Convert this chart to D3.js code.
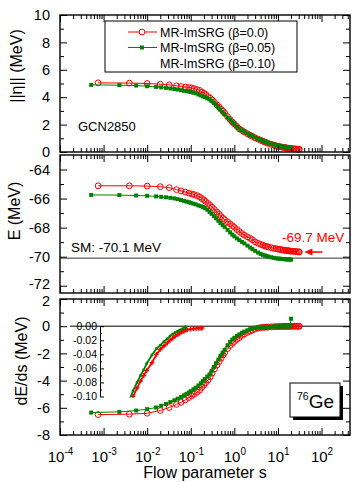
<!DOCTYPE html>
<html>
<head>
<meta charset="utf-8">
<script src="https://cdn.jsdelivr.net/npm/d3@7"></script>
<style>
  body { margin: 0; background: #fff; }
  text { font-family: "Liberation Sans", Arial, sans-serif; }
</style>
</head>
<body>
<svg id="chart" width="352" height="482"></svg>
<script>
// flow parameter grids
const sRed = [0.00075, 0.0039, 0.01, 0.02, 0.032, 0.047, 0.06, 0.075, 0.09, 0.105, 0.12, 0.14, 0.16, 0.18, 0.2, 0.22, 0.25, 0.28, 0.31, 0.35, 0.4, 0.45, 0.5, 0.55, 0.6, 0.7, 0.8, 0.9, 1.0, 1.15, 1.3, 1.5, 1.7, 2.0, 2.3, 2.6, 3.0, 3.5, 4, 4.5, 5, 5.5, 6, 7, 8, 9, 10, 11, 12, 13, 14, 15, 16, 17, 18, 19, 20, 22, 24, 26, 28, 30, 31];
const sGreen = [0.00052, 0.0023, 0.0056, 0.01, 0.016, 0.021, 0.027, 0.034, 0.042, 0.05, 0.06, 0.07, 0.08, 0.09, 0.1, 0.115, 0.13, 0.15, 0.17, 0.19, 0.21, 0.24, 0.27, 0.3, 0.34, 0.38, 0.43, 0.48, 0.54, 0.6, 0.7, 0.8, 0.9, 1.0, 1.15, 1.3, 1.5, 1.7, 2.0, 2.3, 2.6, 3.0, 3.5, 4, 4.5, 5, 5.5, 6, 7, 8, 9, 10, 11, 12, 13, 14, 15, 16, 17, 18, 19, 20];

// ||eta|| (MeV)
const normRed = [5.05, 5.03, 5.0, 4.95, 4.9, 4.83, 4.78, 4.74, 4.71, 4.68, 4.62, 4.55, 4.5, 4.37, 4.28, 4.2, 4.05, 3.92, 3.8, 3.63, 3.43, 3.27, 3.11, 2.98, 2.83, 2.58, 2.37, 2.19, 2.05, 1.86, 1.69, 1.57, 1.46, 1.33, 1.22, 1.14, 1.04, 0.94, 0.86, 0.79, 0.73, 0.68, 0.63, 0.56, 0.51, 0.46, 0.42, 0.39, 0.37, 0.35, 0.33, 0.31, 0.30, 0.28, 0.27, 0.26, 0.25, 0.24, 0.23, 0.22, 0.21, 0.2, 0.2];
const normGreen = [4.9, 4.88, 4.85, 4.8, 4.75, 4.72, 4.68, 4.64, 4.6, 4.56, 4.51, 4.47, 4.45, 4.41, 4.38, 4.33, 4.29, 4.2, 4.13, 4.06, 4.0, 3.92, 3.85, 3.72, 3.59, 3.46, 3.28, 3.1, 2.9, 2.74, 2.52, 2.35, 2.18, 2.04, 1.85, 1.7, 1.58, 1.48, 1.35, 1.24, 1.16, 1.06, 0.96, 0.88, 0.82, 0.76, 0.71, 0.67, 0.6, 0.55, 0.5, 0.47, 0.44, 0.42, 0.4, 0.38, 0.37, 0.36, 0.35, 0.34, 0.33, 0.33];

// E (MeV)
const eRed = [-65.12, -65.12, -65.14, -65.18, -65.25, -65.38, -65.47, -65.55, -65.63, -65.68, -65.73, -65.8, -65.88, -66.0, -66.1, -66.2, -66.34, -66.47, -66.6, -66.76, -66.93, -67.08, -67.24, -67.37, -67.45, -67.6, -67.74, -67.87, -67.98, -68.13, -68.27, -68.41, -68.52, -68.64, -68.74, -68.84, -68.98, -69.08, -69.15, -69.21, -69.26, -69.3, -69.33, -69.38, -69.42, -69.45, -69.48, -69.5, -69.52, -69.54, -69.56, -69.57, -69.58, -69.59, -69.6, -69.61, -69.62, -69.63, -69.64, -69.65, -69.66, -69.67, -69.68];
const eGreen = [-65.75, -65.76, -65.79, -65.81, -65.85, -65.88, -65.91, -65.95, -65.99, -66.04, -66.1, -66.16, -66.21, -66.25, -66.29, -66.35, -66.4, -66.47, -66.52, -66.58, -66.65, -66.77, -66.92, -67.05, -67.21, -67.36, -67.53, -67.68, -67.82, -67.95, -68.15, -68.33, -68.48, -68.6, -68.74, -68.86, -68.98, -69.09, -69.24, -69.37, -69.48, -69.6, -69.72, -69.81, -69.87, -69.92, -69.96, -69.99, -70.04, -70.08, -70.11, -70.13, -70.14, -70.15, -70.16, -70.17, -70.18, -70.18, -70.19, -70.19, -70.2, -70.2];
const eShellModel = -70.1;

// dE/ds (MeV)
const dedsRed = [-6.5, -6.47, -6.4, -6.2, -5.98, -5.75, -5.6, -5.42, -5.25, -5.12, -5.0, -4.85, -4.7, -4.5, -4.32, -4.15, -3.95, -3.72, -3.45, -3.15, -2.85, -2.6, -2.35, -2.12, -1.95, -1.65, -1.42, -1.25, -1.12, -0.97, -0.84, -0.68, -0.57, -0.46, -0.37, -0.28, -0.2, -0.14, -0.1, -0.088, -0.078, -0.07, -0.063, -0.052, -0.04, -0.033, -0.028, -0.024, -0.02, -0.017, -0.014, -0.012, -0.01, -0.0085, -0.007, -0.006, -0.005, -0.0042, -0.0036, -0.0032, -0.003, -0.0028, -0.0027];
const dedsGreen = [-6.35, -6.3, -6.2, -6.1, -5.98, -5.85, -5.72, -5.58, -5.45, -5.33, -5.2, -5.08, -4.98, -4.88, -4.78, -4.64, -4.52, -4.36, -4.2, -4.03, -3.88, -3.7, -3.55, -3.3, -3.0, -2.72, -2.45, -2.2, -1.95, -1.74, -1.4, -1.15, -0.98, -0.85, -0.72, -0.6, -0.48, -0.39, -0.3, -0.22, -0.17, -0.13, -0.108, -0.092, -0.08, -0.07, -0.062, -0.053, -0.041, -0.032, -0.027, -0.022, -0.018, -0.014, -0.011, -0.009, -0.007, -0.0055, -0.004, -0.003, -0.002, 0.55];

const legendLabels = ["MR-ImSRG (\u03b2=0.0)", "MR-ImSRG (\u03b2=0.05)", "MR-ImSRG (\u03b2=0.10)"];
const xTickValues = [1e-4, 1e-3, 1e-2, 1e-1, 1e0, 1e1, 1e2];
const insetTicks = [0, -0.02, -0.04, -0.06, -0.08, -0.10];

const RED = "#ff0000", GREEN = "#008000";

const svg = d3.select("#chart");
const left = 60, right = 350;
const x = d3.scaleLog().domain([1e-4, 450]).range([left, right]);

// nudge: pixel shift for the labels where two panels meet
const panels = [
  { top: 15, bottom: 152, domain: [0, 10], labels: [0, 2, 4, 6, 8, 10], minor: [1, 3, 5, 7, 9], nudge: {} },
  { top: 155, bottom: 293, domain: [-72.5, -63], labels: [-72, -70, -68, -66, -64], minor: [-71, -69, -67, -65], nudge: { "-72": -2 } },
  { top: 299, bottom: 435, domain: [-8, 2], labels: [-8, -6, -4, -2, 0, 2], minor: [-7, -5, -3, -1, 1], nudge: { "2": 2 } }
];
panels.forEach(p => p.y = d3.scaleLinear().domain(p.domain).range([p.bottom, p.top]));

const xMinor = [];
for (let e = -4; e <= 2; e++) for (let m = 2; m <= 9; m++) {
  const v = m * Math.pow(10, e);
  if (v < 450) xMinor.push(v);
}

function drawSeries(g, xs, ys, yScale, color, kind) {
  const pts = xs.map((s, i) => [s, ys[i]]);
  g.append("path").datum(pts)
    .attr("fill", "none").attr("stroke", color).attr("stroke-width", 1)
    .attr("d", d3.line().x(d => x(d[0])).y(d => yScale(d[1])));
  if (kind === "circle") {
    g.selectAll(null).data(pts).enter().append("circle")
      .attr("cx", d => x(d[0])).attr("cy", d => yScale(d[1])).attr("r", 2.9)
      .attr("fill", "none").attr("stroke", color).attr("stroke-width", 1);
  } else {
    g.selectAll(null).data(pts).enter().append("rect")
      .attr("x", d => x(d[0]) - 2).attr("y", d => yScale(d[1]) - 2)
      .attr("width", 4).attr("height", 4).attr("fill", color);
  }
}

const series = [[normRed, normGreen], [eRed, eGreen], [dedsRed, dedsGreen]];

// reference lines under the data
const p2 = panels[1], p3 = panels[2];
svg.append("line").attr("x1", left).attr("x2", right)
  .attr("y1", p2.y(eShellModel)).attr("y2", p2.y(eShellModel))
  .attr("stroke", "#333").attr("stroke-width", 1);
svg.append("line").attr("x1", 70).attr("x2", right)
  .attr("y1", p3.y(0)).attr("y2", p3.y(0))
  .attr("stroke", "#000").attr("stroke-width", 1);

panels.forEach((p, i) => {
  const g = svg.append("g");
  drawSeries(g, sRed, series[i][0], p.y, RED, "circle");
  drawSeries(g, sGreen, series[i][1], p.y, GREEN, "square");
});

// axes and frames
panels.forEach((p, i) => {
  const gl = svg.append("g").attr("transform", `translate(${left},0)`)
    .call(d3.axisLeft(p.y).tickValues(p.labels).tickSize(-7).tickSizeOuter(0).tickPadding(10).tickFormat(d => String(d)));
  gl.selectAll("text").attr("font-size", 14.5).attr("font-family", null).attr("fill", "#000")
    .attr("dy", d => (4.6 + (p.nudge[String(d)] || 0)) + "px");
  svg.append("g").attr("transform", `translate(${left},0)`)
    .call(d3.axisLeft(p.y).tickValues(p.minor).tickSize(-4).tickSizeOuter(0).tickFormat(""));
  svg.append("g").attr("transform", `translate(${right},0)`)
    .call(d3.axisRight(p.y).tickValues(p.labels).tickSize(-7).tickSizeOuter(0).tickFormat(""));
  svg.append("g").attr("transform", `translate(${right},0)`)
    .call(d3.axisRight(p.y).tickValues(p.minor).tickSize(-4).tickSizeOuter(0).tickFormat(""));

  svg.append("g").attr("transform", `translate(0,${p.top})`)
    .call(d3.axisTop(x).tickValues(xTickValues).tickSize(-7).tickSizeOuter(0).tickFormat(""));
  svg.append("g").attr("transform", `translate(0,${p.top})`)
    .call(d3.axisTop(x).tickValues(xMinor).tickSize(-4).tickSizeOuter(0).tickFormat(""));
  const gb = svg.append("g").attr("transform", `translate(0,${p.bottom})`)
    .call(d3.axisBottom(x).tickValues(xTickValues).tickSize(-7).tickSizeOuter(0).tickFormat(""));
  svg.append("g").attr("transform", `translate(0,${p.bottom})`)
    .call(d3.axisBottom(x).tickValues(xMinor).tickSize(-4).tickSizeOuter(0).tickFormat(""));

  if (i === 2) {
    gb.selectAll(".tick text")
      .attr("y", 27).attr("dy", null).attr("font-size", 15).attr("font-family", null).attr("fill", "#000")
      .text("10")
      .append("tspan").attr("dy", -7).attr("font-size", 10)
      .text(d => Math.round(Math.log10(d)));
  }

  svg.append("rect").attr("x", left).attr("y", p.top)
    .attr("width", right - left).attr("height", p.bottom - p.top)
    .attr("fill", "none").attr("stroke", "#000").attr("stroke-width", 1.4);
});
svg.selectAll(".domain").remove();
svg.selectAll(".tick line").attr("stroke", "#000");

// axis titles
const titles = [
  { text: "||\u03b7|| (MeV)", x: 18, y: 66 },
  { text: "E (MeV)", x: 16, y: 211 },
  { text: "dE/ds (MeV)", x: 23, y: 361 }
];
titles.forEach(t => {
  svg.append("text").attr("transform", `translate(${t.x},${t.y}) rotate(-90)`)
    .attr("text-anchor", "middle").attr("dominant-baseline", "middle")
    .attr("font-size", 16).text(t.text);
});
svg.append("text").attr("x", (left + right) / 2).attr("y", 478)
  .attr("text-anchor", "middle").attr("font-size", 16).text("Flow parameter s");

// legend
svg.append("rect").attr("x", 105).attr("y", 21).attr("width", 192).attr("height", 51)
  .attr("fill", "#fff").attr("stroke", "#000").attr("stroke-width", 1);
const legColors = [RED, GREEN, null];
legendLabels.forEach((lab, i) => {
  const ly = 32 + i * 15.5;
  const c = legColors[i];
  if (c) {
    svg.append("line").attr("x1", 128).attr("x2", 157).attr("y1", ly).attr("y2", ly)
      .attr("stroke", c).attr("stroke-width", 1);
    if (i === 0) svg.append("circle").attr("cx", 142).attr("cy", ly).attr("r", 2.9)
      .attr("fill", "#fff").attr("stroke", c);
    else svg.append("rect").attr("x", 140).attr("y", ly - 2).attr("width", 4).attr("height", 4).attr("fill", c);
  }
  svg.append("text").attr("x", 160).attr("y", ly + 4.5).attr("font-size", 12.5).text(lab);
});

svg.append("text").attr("x", 78).attr("y", 131).attr("font-size", 13).text("GCN2850");

// E panel annotations
svg.append("text").attr("x", 71).attr("y", 252).attr("font-size", 13.5).text("SM: -70.1 MeV");
const tipX = x(sRed[sRed.length - 1]) + 5, tipY = p2.y(eRed[eRed.length - 1]);
svg.append("text").attr("x", 282).attr("y", 241.5).attr("font-size", 13.5).attr("fill", RED).text("-69.7 MeV");
svg.append("line").attr("x1", tipX + 6).attr("x2", tipX + 18).attr("y1", tipY).attr("y2", tipY)
  .attr("stroke", RED).attr("stroke-width", 1.5);
svg.append("path").attr("d", `M${tipX},${tipY} L${tipX + 8},${tipY - 3.5} L${tipX + 8},${tipY + 3.5} Z`).attr("fill", RED);

// inset of dE/ds tail
const ix = d3.scaleLog().domain([1.5, 40]).range([100, 210.7]);
const iy = d3.scaleLinear().domain([-0.1, 0]).range([396.5, p3.y(0)]);
svg.append("clipPath").attr("id", "insetClip").append("rect")
  .attr("x", 100).attr("y", iy(0) - 1).attr("width", 112).attr("height", iy(-0.1) - iy(0) + 2);
const ig = svg.append("g").attr("clip-path", "url(#insetClip)");
[[sRed, dedsRed, RED], [sGreen, dedsGreen, GREEN]].forEach(([xs, ys, c]) => {
  const pts = xs.map((s, i) => [s, ys[i]]);
  ig.append("path").datum(pts).attr("fill", "none").attr("stroke", c).attr("stroke-width", 1.8)
    .attr("d", d3.line().x(d => ix(d[0])).y(d => iy(d[1])));
  if (c === RED) {
    ig.selectAll(null).data(pts).enter().append("path")
      .attr("transform", d => `translate(${ix(d[0])},${iy(d[1])})`)
      .attr("d", d3.symbol(d3.symbolCross, 12)).attr("fill", c);
  } else {
    ig.selectAll(null).data(pts).enter().append("rect")
      .attr("x", d => ix(d[0]) - 1.3).attr("y", d => iy(d[1]) - 1.3)
      .attr("width", 2.6).attr("height", 2.6).attr("fill", c);
  }
});
const ia = svg.append("g").attr("transform", "translate(100,0)")
  .call(d3.axisLeft(iy).tickValues(insetTicks).tickSize(-4).tickSizeOuter(0).tickPadding(3).tickFormat(d => d.toFixed(2)));
ia.selectAll("text").attr("font-size", 10.5).attr("font-family", null).attr("fill", "#000");
ia.selectAll(".tick line").attr("stroke", "#000");
svg.append("g").attr("transform", "translate(100,0)")
  .call(d3.axisLeft(iy).tickValues([-0.01, -0.03, -0.05, -0.07, -0.09]).tickSize(-2).tickSizeOuter(0).tickFormat(""))
  .select(".domain").remove();

// nucleus label
svg.append("rect").attr("x", 293).attr("y", 386).attr("width", 50).attr("height", 34).attr("fill", "#000");
svg.append("rect").attr("x", 290).attr("y", 383).attr("width", 50).attr("height", 34)
  .attr("fill", "#fff").attr("stroke", "#000").attr("stroke-width", 1);
const ge = svg.append("text").attr("x", 297).attr("y", 408);
ge.append("tspan").attr("font-size", 10.5).attr("dy", -8).text("76");
ge.append("tspan").attr("font-size", 19).attr("dy", 8).text("Ge");
</script>
</body>
</html>
